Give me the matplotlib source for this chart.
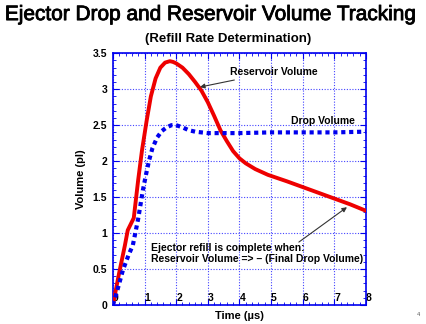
import numpy as np
import matplotlib
matplotlib.use("Agg")
import matplotlib.pyplot as plt
import matplotlib.patheffects as pe
from matplotlib.ticker import MultipleLocator, FormatStrFormatter

plt.rcParams['font.family'] = ['Liberation Sans', 'DejaVu Sans']

# reservoir volume (red solid)
res_t = [0, 0.2, 0.38, 0.47, 0.66, 0.8, 0.92, 1.07, 1.2, 1.35, 1.5, 1.65, 1.8, 1.9,
         2.0, 2.2, 2.4, 2.6, 2.8, 3.0, 3.2, 3.4, 3.6, 3.8, 4.0, 4.2, 4.5, 4.9,
         5.5, 6.0, 6.5, 7.0, 7.5, 8.0]
res_v = [0, 0.45, 0.83, 1.04, 1.21, 1.74, 2.15, 2.57, 2.9, 3.15, 3.3, 3.37, 3.39, 3.38,
         3.36, 3.3, 3.21, 3.1, 2.98, 2.82, 2.63, 2.43, 2.28, 2.14, 2.04, 1.97, 1.89, 1.81,
         1.72, 1.64, 1.56, 1.48, 1.40, 1.31]

# drop volume (blue dotted)
drop_t = [0, 0.15, 0.32, 0.5, 0.63, 0.8, 0.95, 1.05, 1.15, 1.25, 1.4, 1.55, 1.7, 1.85,
          2.0, 2.2, 2.4, 2.6, 2.8, 3.0, 3.5, 4.0, 5.0, 6.0, 7.0, 8.0]
drop_v = [0, 0.22, 0.49, 0.7, 0.83, 1.2, 1.6, 1.82, 2.02, 2.18, 2.33, 2.42, 2.47, 2.5,
          2.5, 2.47, 2.43, 2.41, 2.4, 2.39, 2.39, 2.39, 2.4, 2.4, 2.4, 2.41]

blue = '#0000ee'

fig = plt.figure(figsize=(4.26, 3.24), dpi=100)
ax = fig.add_axes([0.265, 0.0586, 0.594, 0.777])

ax.plot(res_t, res_v, color='#ee0000', lw=2.8, solid_capstyle='round', zorder=3)
ax.plot(drop_t, drop_v, color=blue, lw=3, linestyle=(0, (1.0, 0.9)), zorder=3)

ax.set_xlim(0, 8)
ax.set_ylim(0, 3.5)
ax.xaxis.set_major_locator(MultipleLocator(1))
ax.xaxis.set_minor_locator(MultipleLocator(0.2))
ax.yaxis.set_major_locator(MultipleLocator(0.5))
ax.yaxis.set_minor_locator(MultipleLocator(0.1))
ax.yaxis.set_major_formatter(FormatStrFormatter('%g'))
ax.grid(True, which='major', color='#4444ff', linestyle=(0, (1, 1.5)), lw=0.8)

for s in ax.spines.values():
    s.set_color(blue)
    s.set_linewidth(1.2)
ax.tick_params(which='both', direction='in', top=True, right=True, color=blue)
ax.tick_params(which='major', length=4)
ax.tick_params(which='minor', length=2.5)
ax.tick_params(axis='x', pad=-1.5, labelsize=7.5)
ax.tick_params(axis='y', pad=4, labelsize=7.5)
for lab in ax.get_xticklabels() + ax.get_yticklabels():
    lab.set_fontweight('bold')
for lab in ax.get_xticklabels():
    lab.set_verticalalignment('bottom')
    lab.set_horizontalalignment('left')

ax.set_xlabel('Time (µs)', fontsize=8, fontweight='bold', labelpad=1)
ax.set_ylabel('Volume (pl)', fontsize=8, fontweight='bold', labelpad=5)

ax.annotate('Reservoir Volume', xy=(2.75, 3.03), xytext=(3.7, 3.24),
            fontsize=7.5, fontweight='bold', va='center', ha='left',
            arrowprops=dict(arrowstyle='-|>', color='#333333', lw=0.8,
                            mutation_scale=7, shrinkA=1, shrinkB=0))
ax.text(6.65, 2.56, 'Drop Volume', fontsize=7.5, fontweight='bold',
        ha='center', va='center')
ax.text(1.2, 0.72, 'Ejector refill is complete when:\nReservoir Volume => \u2013 (Final Drop Volume)',
        fontsize=7.5, fontweight='bold', ha='left', va='center', linespacing=1.1)
ax.annotate('', xy=(7.4, 1.36), xytext=(5.88, 0.875),
            arrowprops=dict(arrowstyle='-|>', color='#333333', lw=0.8,
                            mutation_scale=7, shrinkA=0, shrinkB=0))

fig.text(0.495, 0.955, 'Ejector Drop and Reservoir Volume Tracking',
         fontsize=15, ha='center', va='center',
         path_effects=[pe.withStroke(linewidth=0.6, foreground='black')])
fig.text(0.535, 0.88, '(Refill Rate Determination)',
         fontsize=9.5, fontweight='bold', ha='center', va='center')
fig.text(0.985, 0.03, '4', fontsize=4, color='#555555', ha='right', va='center')

fig.savefig('out.png', dpi=100)
